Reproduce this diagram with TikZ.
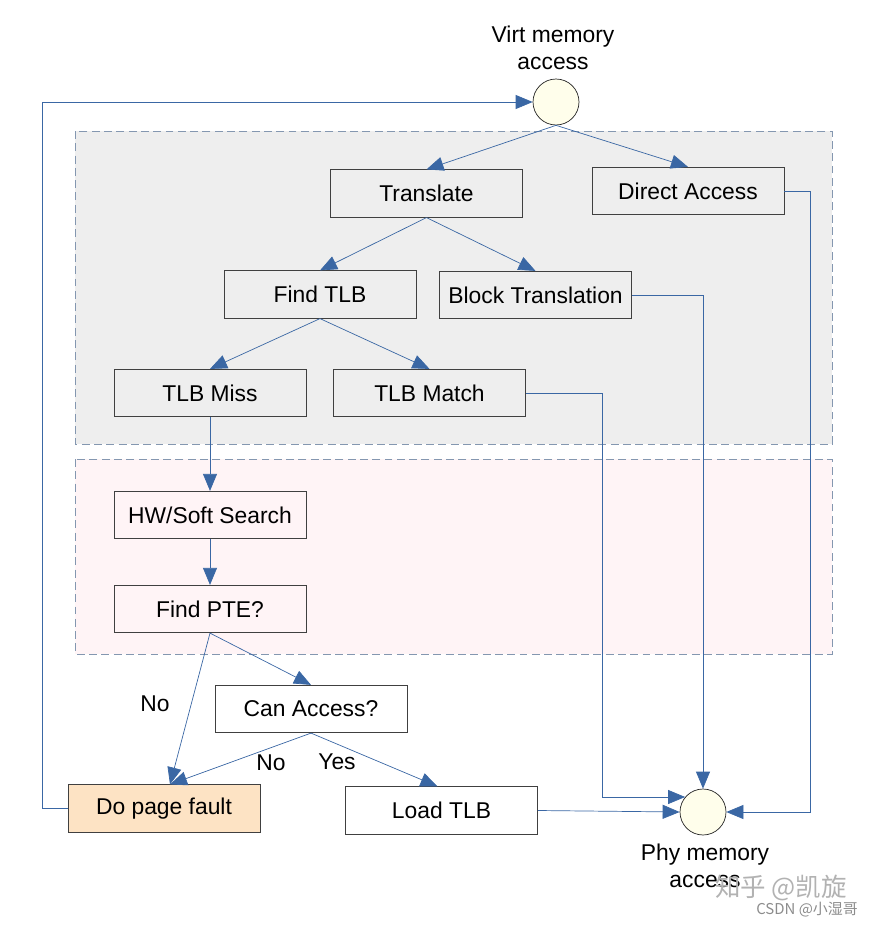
\documentclass[tikz,border=0pt]{standalone}
\usepackage{fontspec}
\setmainfont{Liberation Sans}
\newfontfamily\cjkfont{Noto Sans CJK SC}
\usetikzlibrary{arrows.meta}
\definecolor{linkblue}{HTML}{3A67A4}
\definecolor{regionline}{HTML}{8497B0}
\definecolor{tlbgray}{HTML}{EEEEEE}
\definecolor{walkpink}{HTML}{FFF4F6}
\definecolor{faultfill}{HTML}{FDE3C4}

\begin{document}
\begin{tikzpicture}[x=0.02cm, y=-0.02cm,
  box/.style={rectangle, draw=black!75, minimum width=3.84cm, minimum height=0.95cm, align=center, font=\fontsize{13}{15}\selectfont},
  hub/.style={circle, draw=black!85, fill=yellow!8, minimum size=0.92cm, inner sep=0pt},
  link/.style={draw=linkblue, -{Triangle[length=0.34cm,width=0.28cm]}},
  region/.style={draw=regionline, dash pattern=on 4.5pt off 2.5pt},
  tag/.style={align=center, font=\fontsize{13}{15}\selectfont}]
\useasboundingbox (0,0) rectangle (872,926);

% regions
\draw[region, fill=tlbgray] (75,131) rectangle (832,444);
\draw[region, fill=walkpink] (75,459) rectangle (832,654);

% nodes
\node[hub] (virt) at (556,102) {};
\node[tag] (virtlabel) at (553,48) {Virt memory\\access};
\node[box] (translate) at (426.5,193.5) {Translate};
\node[box] (direct) at (688,191) {Direct Access};
\node[box] (findtlb) at (320,294.5) {Find TLB};
\node[box] (block) at (535.5,295) {Block Translation};
\node[box] (miss) at (210,393) {TLB Miss};
\node[box] (match) at (429.5,393) {TLB Match};
\node[box] (search) at (210,515) {HW/Soft Search};
\node[box] (findpte) at (210,609) {Find PTE?};
\node[box, fill=white] (canaccess) at (311,709) {Can Access?};
\node[box, fill=faultfill] (fault) at (164,808.5) {Do page fault};
\node[box, fill=white] (load) at (441.5,810.5) {Load TLB};
\node[hub] (phy) at (703,812) {};
\node[tag] (phylabel) at (705,866) {Phy memory\\access};

\node[tag] (nopte) at (155,704) {No};
\node[tag] (noaccess) at (271,763) {No};
\node[tag] (yes) at (337,762) {Yes};

% connectors
\draw[link] (virt.south) -- (translate.north);
\draw[link] (virt.south) -- (direct.north);
\draw[link] (translate.south) -- (findtlb.north);
\draw[link] (translate.south) -- (block.north);
\draw[link] (findtlb.south) -- (miss.north);
\draw[link] (findtlb.south) -- (match.north);
\draw[link] (miss.south) -- (search.north);
\draw[link] (search.south) -- (findpte.north);
\draw[link] (findpte.south) -- ([xshift=0.12cm]fault.north);
\draw[link] (findpte.south) -- (canaccess.north);
\draw[link] (canaccess.south) -- ([xshift=0.12cm]fault.north);
\draw[link] (canaccess.south) -- ([xshift=-0.08cm]load.north);
\draw[link] (load.east) -- (phy.west);
\draw[link] (match.east) -| ([xshift=-1.66cm]phy.140) -- (phy.140);
\draw[link] (block.east) -| (phy.north);
\draw[link] (direct.east) -| ([xshift=1.68cm]phy.east) -- (phy.east);
\draw[link] (fault.west) -| ([xshift=-9.8cm]virt.west) -- (virt.west);

% watermark
\node[text=black!30, font=\cjkfont\fontsize{14.5}{16}\selectfont] (mark) at (781,888) {知乎 @凯旋};
\node[text=black!45, font=\cjkfont\fontsize{8.5}{10}\selectfont] (marksub) at (807,910) {CSDN @小湿哥};
\end{tikzpicture}
\end{document}
